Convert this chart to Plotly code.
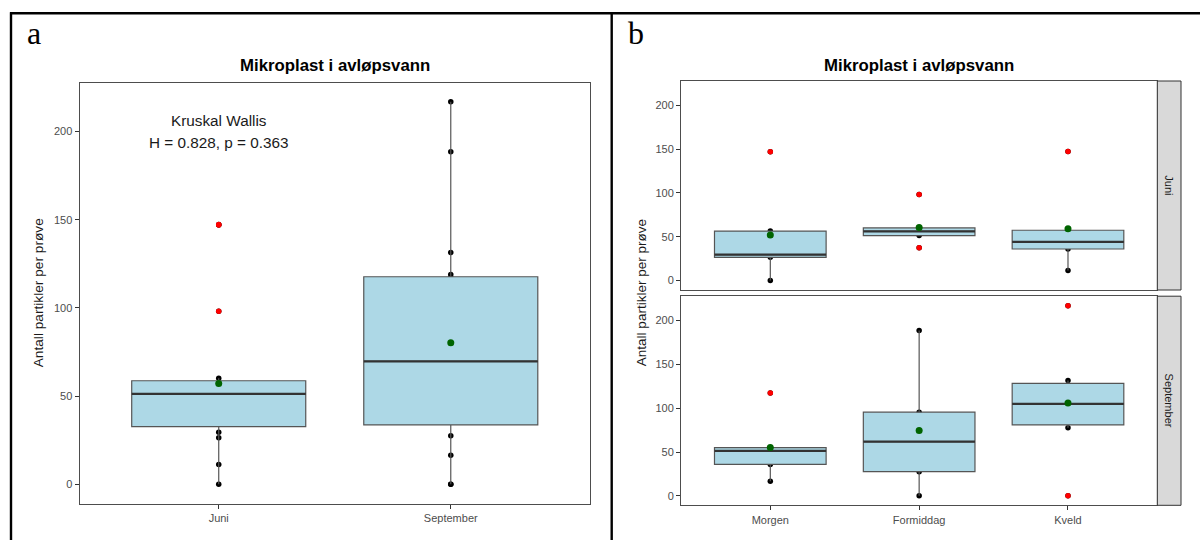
import numpy as np
import plotly.graph_objects as go

# ---------------- data ----------------
months = ["Juni", "September"]
times = ["Morgen", "Formiddag", "Kveld"]

juni_morgen = [0, 26.5, 29.5, 56.5, 147]
juni_formiddag = [37.3, 51.3, 56.2, 60.1, 98.2]
juni_kveld = [11.3, 36, 44, 57.4, 147.3]
sept_morgen = [16.5, 35.8, 51.2, 55.1, 117.3]
sept_formiddag = [0, 27.5, 61.8, 95.5, 188.6]
sept_kveld = [0, 77.6, 91, 119, 131.5, 217]

y_ticks = [0, 50, 100, 150, 200]
kw_H = 0.828
kw_p = 0.363
title_text = "Mikroplast i avløpsvann"
y_title = "Antall partikler per prøve"
panel_labels = ["a", "b"]

groups = {
    "Juni": [juni_morgen, juni_formiddag, juni_kveld],
    "September": [sept_morgen, sept_formiddag, sept_kveld],
}


def box_stats(vals):
    v = np.sort(np.asarray(vals, float))
    q1, med, q3 = np.percentile(v, [25, 50, 75])
    iqr = q3 - q1
    lo_f, hi_f = q1 - 1.5 * iqr, q3 + 1.5 * iqr
    inside = v[(v >= lo_f) & (v <= hi_f)]
    out = v[(v < lo_f) | (v > hi_f)]
    return dict(q1=q1, med=med, q3=q3, lo=inside.min(), hi=inside.max(), out=out, mean=v.mean())


all_vals = np.concatenate([np.asarray(x, float) for g in groups.values() for x in g])
span = all_vals.max() - all_vals.min()
yr = [all_vals.min() - 0.05 * span, all_vals.max() + 0.05 * span]

W, H = 1200, 540
def px(x):
    return x / W
def py(y):
    return (H - y) / H

BOX_FILL = "#ADD8E6"
BOX_LINE = "#555555"
MED_LINE = "#333333"
TICK_FONT = dict(family="Liberation Sans", size=11, color="#4D4D4D")

fig = go.Figure()


def add_panel(cats, data_lists, xa, ya_base, ya_box, ya_top):
    stats = [box_stats(d) for d in data_lists]
    # raw points (drawn below the boxes)
    xs, ys = [], []
    for c, d in zip(cats, data_lists):
        xs += [c] * len(d)
        ys += list(d)
    fig.add_trace(go.Scatter(x=xs, y=ys, mode="markers", xaxis=xa, yaxis=ya_base,
                             marker=dict(color="black", size=5.5), showlegend=False, hoverinfo="skip"))
    # boxes
    fig.add_trace(go.Box(x=cats, q1=[s["q1"] for s in stats], median=[s["med"] for s in stats],
                         q3=[s["q3"] for s in stats], lowerfence=[s["lo"] for s in stats],
                         upperfence=[s["hi"] for s in stats], width=0.75, whiskerwidth=0,
                         fillcolor=BOX_FILL, line=dict(color=BOX_LINE, width=1.2),
                         boxpoints=False, xaxis=xa, yaxis=ya_box, showlegend=False, hoverinfo="skip"))
    # thicker median lines
    meds = [s["med"] for s in stats]
    fig.add_trace(go.Box(x=cats, q1=meds, median=meds, q3=meds, lowerfence=meds, upperfence=meds,
                         width=0.75, whiskerwidth=0, fillcolor="rgba(0,0,0,0)",
                         line=dict(color=MED_LINE, width=2.2), boxpoints=False,
                         xaxis=xa, yaxis=ya_box, showlegend=False, hoverinfo="skip"))
    # outliers
    ox, oy = [], []
    for c, s in zip(cats, stats):
        ox += [c] * len(s["out"])
        oy += list(s["out"])
    fig.add_trace(go.Scatter(x=ox, y=oy, mode="markers", xaxis=xa, yaxis=ya_top,
                             marker=dict(color="#FF0000", size=5.5), showlegend=False, hoverinfo="skip"))
    # means
    fig.add_trace(go.Scatter(x=cats, y=[s["mean"] for s in stats], mode="markers", xaxis=xa, yaxis=ya_top,
                             marker=dict(color="#006400", size=7), showlegend=False, hoverinfo="skip"))


# Panel a: by month
month_lists = [sum(groups[m], []) for m in months]
add_panel(months, month_lists, "x", "y", "y2", "y3")
# Panel b: by time of day, faceted by month
add_panel(times, groups["Juni"], "x2", "y4", "y5", "y6")
add_panel(times, groups["September"], "x3", "y7", "y8", "y9")

axis_line = dict(showline=True, linecolor="#4D4D4D", linewidth=1, mirror=True,
                 showgrid=False, zeroline=False)

a_x0, a_x1, a_y0, a_y1 = 79.5, 590, 82.5, 503.5
b_x0, b_x1 = 681, 1157.3
bt_y0, bt_y1 = 81, 290
bb_y0, bb_y1 = 296.2, 505.3
strip_x1 = 1181

ydict = dict(range=yr, tickvals=y_ticks, ticks="outside", ticklen=4, tickcolor="#333333",
             tickfont=TICK_FONT, **axis_line)
ov = dict(range=yr, visible=False, showgrid=False, zeroline=False)

fig.update_layout(
    width=W, height=H, margin=dict(l=0, r=0, t=0, b=0), autosize=False,
    paper_bgcolor="white", plot_bgcolor="white", boxmode="overlay",
    xaxis=dict(domain=[px(a_x0), px(a_x1)], anchor="y", type="category", categoryarray=months,
               range=[-0.6, 1.6], ticks="outside", ticklen=4, tickcolor="#333333",
               tickfont=TICK_FONT, **axis_line),
    yaxis=dict(domain=[py(a_y1), py(a_y0)], anchor="x", **ydict),
    yaxis2=dict(overlaying="y", anchor="x", **ov),
    yaxis3=dict(overlaying="y", anchor="x", **ov),
    xaxis2=dict(domain=[px(b_x0), px(b_x1)], anchor="y4", type="category", categoryarray=times,
                range=[-0.6, 2.6], ticks="", showticklabels=False, **axis_line),
    yaxis4=dict(domain=[py(bt_y1), py(bt_y0)], anchor="x2", **ydict),
    yaxis5=dict(overlaying="y4", anchor="x2", **ov),
    yaxis6=dict(overlaying="y4", anchor="x2", **ov),
    xaxis3=dict(domain=[px(b_x0), px(b_x1)], anchor="y7", type="category", categoryarray=times,
                range=[-0.6, 2.6], ticks="outside", ticklen=4, tickcolor="#333333",
                tickfont=TICK_FONT, **axis_line),
    yaxis7=dict(domain=[py(bb_y1), py(bb_y0)], anchor="x3", **ydict),
    yaxis8=dict(overlaying="y7", anchor="x3", **ov),
    yaxis9=dict(overlaying="y7", anchor="x3", **ov),
)

ann = []
# panel letters
ann.append(dict(text=panel_labels[0], x=px(25), y=py(32.5), xref="paper", yref="paper", xanchor="left",
                yanchor="middle", showarrow=False, font=dict(family="Liberation Serif", size=32, color="black")))
ann.append(dict(text=panel_labels[1], x=px(626), y=py(32.5), xref="paper", yref="paper", xanchor="left",
                yanchor="middle", showarrow=False, font=dict(family="Liberation Serif", size=32, color="black")))
# titles
for cx in [(a_x0 + a_x1) / 2, (b_x0 + b_x1) / 2]:
    ann.append(dict(text="<b>%s</b>" % title_text, x=px(cx), y=py(65.4), xref="paper", yref="paper",
                    xanchor="center", yanchor="middle", showarrow=False,
                    font=dict(family="Liberation Sans", size=16.8, color="black")))
# y titles
ann.append(dict(text=y_title, x=px(39.3), y=py((a_y0 + a_y1) / 2), xref="paper", yref="paper",
                textangle=-90, showarrow=False, xanchor="center", yanchor="middle",
                font=dict(family="Liberation Sans", size=13.7, color="#1A1A1A")))
ann.append(dict(text=y_title, x=px(641), y=py((bt_y0 + bb_y1) / 2), xref="paper", yref="paper",
                textangle=-90, showarrow=False, xanchor="center", yanchor="middle",
                font=dict(family="Liberation Sans", size=13.5, color="#1A1A1A")))
# Kruskal-Wallis text
ann.append(dict(text="Kruskal Wallis", x=months[0], y=200, xref="x", yref="y", yshift=11,
                showarrow=False, font=dict(family="Liberation Sans", size=15.3, color="#1A1A1A")))
ann.append(dict(text="H = %.3f, p = %.3f" % (kw_H, kw_p), x=months[0], y=200, xref="x", yref="y",
                yshift=-11, showarrow=False, font=dict(family="Liberation Sans", size=15.3, color="#1A1A1A")))
# strip labels
for lab, (y0, y1) in zip(months, [(bt_y0, bt_y1), (bb_y0, bb_y1)]):
    ann.append(dict(text=lab, x=px((b_x1 + strip_x1) / 2), y=py((y0 + y1) / 2), xref="paper", yref="paper",
                    textangle=90, showarrow=False, xanchor="center", yanchor="middle",
                    font=dict(family="Liberation Sans", size=11, color="#1A1A1A")))
fig.update_layout(annotations=ann)

shapes = []
for (y0, y1) in [(bt_y0, bt_y1), (bb_y0, bb_y1)]:
    shapes.append(dict(type="rect", xref="paper", yref="paper", x0=px(b_x1), x1=px(strip_x1),
                       y0=py(y1), y1=py(y0), fillcolor="#D9D9D9", line=dict(color="#333333", width=1)))
# outer frame lines
fr = dict(color="black", width=2.4)
shapes.append(dict(type="line", xref="paper", yref="paper", x0=px(10), x1=1, y0=py(13.3), y1=py(13.3), line=fr))
shapes.append(dict(type="line", xref="paper", yref="paper", x0=px(11), x1=px(11), y0=py(12.2), y1=0, line=fr))
shapes.append(dict(type="line", xref="paper", yref="paper", x0=px(611.7), x1=px(611.7), y0=py(12.2), y1=0, line=fr))
fig.update_layout(shapes=shapes)

fig.write_html("out.html")
